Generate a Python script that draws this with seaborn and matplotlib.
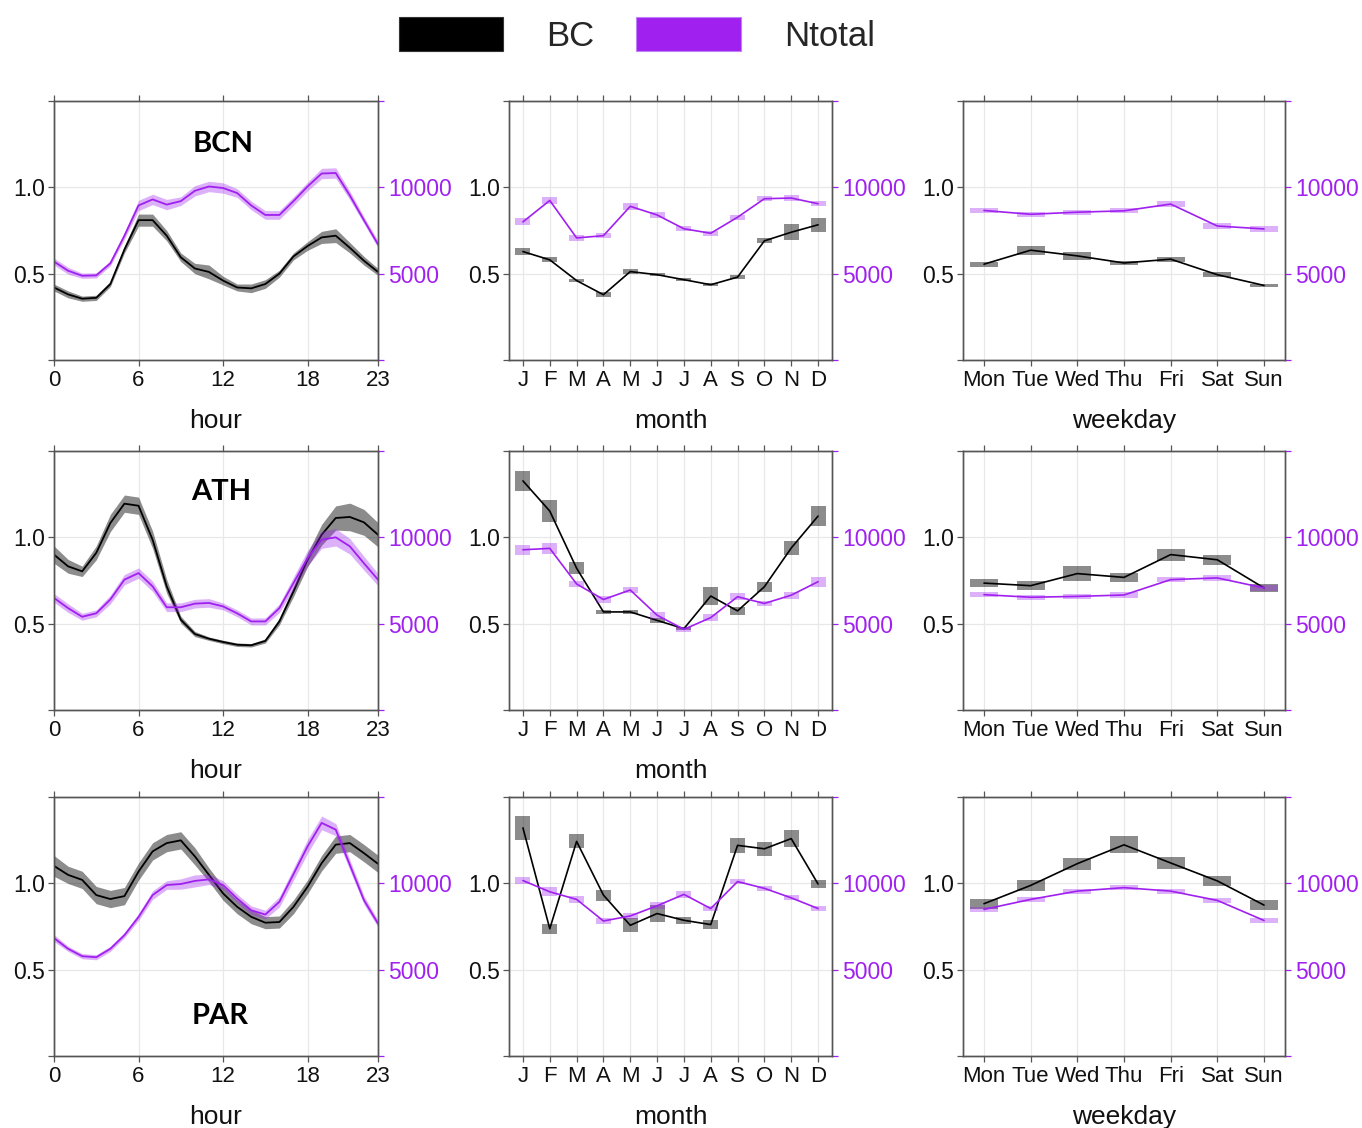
import numpy as np
import pandas as pd
import matplotlib
matplotlib.use("Agg")
import matplotlib.pyplot as plt
from matplotlib.patches import Patch
import seaborn as sns

sns.set_style("white")
plt.rcParams["font.family"] = ["Liberation Sans", "DejaVu Sans"]

# ---------------------------------------------------------------- data
hours = list(range(24))
months = list(range(1, 13))
month_labels = ["J", "F", "M", "A", "M", "J", "J", "A", "S", "O", "N", "D"]
weekdays = list(range(1, 8))
weekday_labels = ["Mon", "Tue", "Wed", "Thu", "Fri", "Sat", "Sun"]
sites = ["BCN", "ATH", "PAR"]

# BC (left axis) and Ntotal (right axis) diurnal means with CI half-widths
bcn_bc_hour = [0.42, 0.38, 0.355, 0.36, 0.44, 0.64, 0.81, 0.81, 0.72, 0.595, 0.53, 0.51,
               0.46, 0.42, 0.415, 0.44, 0.50, 0.60, 0.66, 0.71, 0.72, 0.65, 0.575, 0.51]
bcn_bc_hour_ci = [0.02, 0.02, 0.015, 0.015, 0.015, 0.02, 0.035, 0.035, 0.03, 0.025, 0.03, 0.04,
                  0.025, 0.02, 0.025, 0.025, 0.02, 0.02, 0.025, 0.035, 0.04, 0.03, 0.025, 0.02]
bcn_n_hour = [5700, 5170, 4880, 4900, 5600, 7200, 8950, 9300, 9000, 9200, 9800, 10050,
              9960, 9670, 8950, 8400, 8400, 9200, 10050, 10800, 10830, 9530, 8100, 6700]
bcn_n_hour_ci = [200, 200, 150, 150, 150, 200, 300, 300, 300, 250, 300, 300,
                 300, 250, 250, 250, 250, 250, 250, 300, 300, 250, 200, 200]

ath_bc_hour = [0.90, 0.832, 0.803, 0.91, 1.083, 1.195, 1.183, 0.986, 0.716, 0.523, 0.44, 0.413,
               0.394, 0.378, 0.375, 0.40, 0.513, 0.687, 0.87, 1.015, 1.112, 1.118, 1.087, 1.015]
ath_bc_hour_ci = [0.05, 0.04, 0.03, 0.04, 0.05, 0.05, 0.05, 0.05, 0.04, 0.02, 0.015, 0.01,
                  0.01, 0.01, 0.01, 0.012, 0.02, 0.03, 0.04, 0.06, 0.07, 0.08, 0.075, 0.07]
ath_n_hour = [6490, 5900, 5400, 5600, 6400, 7550, 7930, 7160, 5950, 5950, 6160, 6200,
              6000, 5600, 5130, 5130, 5900, 7350, 8800, 9860, 10000, 9480, 8500, 7550]
ath_n_hour_ci = [250, 250, 200, 200, 250, 300, 300, 300, 250, 250, 250, 250,
                 200, 200, 200, 200, 250, 350, 450, 500, 500, 450, 400, 350]

par_bc_hour = [1.101, 1.049, 1.02, 0.932, 0.909, 0.926, 1.068, 1.185, 1.233, 1.249, 1.156, 1.049,
               0.942, 0.864, 0.806, 0.772, 0.776, 0.864, 0.98, 1.117, 1.224, 1.233, 1.175, 1.113]
par_bc_hour_ci = [0.06, 0.05, 0.05, 0.05, 0.05, 0.05, 0.05, 0.05, 0.05, 0.05, 0.05, 0.04,
                  0.04, 0.04, 0.04, 0.035, 0.035, 0.04, 0.04, 0.045, 0.05, 0.05, 0.05, 0.05]
par_n_hour = [6830, 6210, 5780, 5720, 6210, 7000, 8050, 9320, 9900, 9960, 10140, 10230,
              9900, 9120, 8440, 8190, 8930, 10530, 12140, 13500, 13110, 11070, 9030, 7670]
par_n_hour_ci = [200, 150, 150, 150, 150, 150, 200, 250, 250, 300, 350, 300,
                 250, 250, 250, 250, 300, 350, 400, 400, 350, 300, 250, 200]

# monthly means with CI half-widths
bcn_bc_month = [0.628, 0.58, 0.46, 0.378, 0.512, 0.494, 0.465, 0.436, 0.48, 0.69, 0.74, 0.783]
bcn_bc_month_ci = [0.02, 0.015, 0.01, 0.015, 0.015, 0.01, 0.01, 0.01, 0.01, 0.015, 0.045, 0.04]
bcn_n_month = [8000, 9240, 7070, 7200, 8900, 8400, 7600, 7340, 8270, 9340, 9380, 9050]
bcn_n_month_ci = [200, 200, 150, 150, 200, 150, 150, 150, 150, 150, 150, 150]

ath_bc_month = [1.327, 1.152, 0.821, 0.568, 0.568, 0.519, 0.471, 0.66, 0.574, 0.714, 0.938, 1.123]
ath_bc_month_ci = [0.058, 0.063, 0.035, 0.014, 0.014, 0.015, 0.01, 0.053, 0.022, 0.03, 0.04, 0.056]
ath_n_month = [9280, 9360, 7300, 6400, 6950, 5490, 4670, 5350, 6560, 6170, 6650, 7430]
ath_n_month_ci = [300, 300, 200, 200, 200, 200, 150, 200, 200, 150, 200, 300]

par_bc_month = [1.321, 0.737, 1.243, 0.932, 0.757, 0.825, 0.786, 0.761, 1.22, 1.20, 1.259, 0.996]
par_bc_month_ci = [0.068, 0.03, 0.04, 0.032, 0.04, 0.05, 0.02, 0.027, 0.044, 0.042, 0.047, 0.024]
par_n_month = [10160, 9510, 9070, 7820, 8110, 8700, 9360, 8540, 10100, 9710, 9160, 8540]
par_n_month_ci = [200, 250, 200, 200, 200, 200, 200, 150, 150, 150, 150, 120]

# day-of-week means with CI half-widths
bcn_bc_week = [0.555, 0.636, 0.603, 0.562, 0.584, 0.494, 0.432]
bcn_bc_week_ci = [0.015, 0.025, 0.025, 0.012, 0.015, 0.015, 0.01]
bcn_n_week = [8660, 8440, 8560, 8640, 9030, 7760, 7590]
bcn_n_week_ci = [150, 150, 150, 150, 150, 150, 150]

ath_bc_week = [0.735, 0.72, 0.79, 0.768, 0.90, 0.87, 0.707]
ath_bc_week_ci = [0.025, 0.025, 0.045, 0.025, 0.035, 0.03, 0.025]
ath_n_week = [6680, 6530, 6580, 6660, 7550, 7650, 7070]
ath_n_week_ci = [150, 150, 150, 150, 150, 150, 150]

par_bc_week = [0.882, 0.988, 1.114, 1.223, 1.118, 1.014, 0.874]
par_bc_week_ci = [0.03, 0.03, 0.035, 0.05, 0.035, 0.03, 0.03]
par_n_week = [8490, 9070, 9550, 9750, 9550, 9010, 7850]
par_n_week_ci = [150, 150, 150, 150, 150, 150, 150]

hour_data = {
    "BCN": (bcn_bc_hour, bcn_bc_hour_ci, bcn_n_hour, bcn_n_hour_ci),
    "ATH": (ath_bc_hour, ath_bc_hour_ci, ath_n_hour, ath_n_hour_ci),
    "PAR": (par_bc_hour, par_bc_hour_ci, par_n_hour, par_n_hour_ci),
}
month_data = {
    "BCN": (bcn_bc_month, bcn_bc_month_ci, bcn_n_month, bcn_n_month_ci),
    "ATH": (ath_bc_month, ath_bc_month_ci, ath_n_month, ath_n_month_ci),
    "PAR": (par_bc_month, par_bc_month_ci, par_n_month, par_n_month_ci),
}
week_data = {
    "BCN": (bcn_bc_week, bcn_bc_week_ci, bcn_n_week, bcn_n_week_ci),
    "ATH": (ath_bc_week, ath_bc_week_ci, ath_n_week, ath_n_week_ci),
    "PAR": (par_bc_week, par_bc_week_ci, par_n_week, par_n_week_ci),
}

# ---------------------------------------------------------------- style
BC_COL = "black"
N_COL = "#A020F0"
FRAME = "#555555"
GRID = "#e8e8e8"
W, H = 1362, 1128
col_left = [54, 509, 963]
col_width = [324, 323, 322]
row_top = [101, 451, 797]
row_height = 259

fig = plt.figure(figsize=(W / 100, H / 100), dpi=100)


def style_axes(ax, ax2, xticks, xlabels, xlim, xlabel):
    ax.set_xlim(*xlim)
    ax.set_ylim(0, 1.5)
    ax2.set_ylim(0, 15000)
    ax.set_xticks(xticks)
    ax.set_xticklabels(xlabels)
    ax.set_yticks([0, 0.5, 1.0, 1.5])
    ax.set_yticklabels(["", "0.5", "1.0", ""])
    ax2.set_yticks([0, 5000, 10000, 15000])
    ax2.set_yticklabels(["", "5000", "10000", ""])
    ax.grid(True, color=GRID, lw=0.9)
    ax.set_axisbelow(True)
    for a in (ax, ax2):
        for s in a.spines.values():
            s.set_color(FRAME)
            s.set_linewidth(1.0)
            s.set_visible(True)
    ax.tick_params(axis="x", which="both", direction="out", length=4.5, width=0.9,
                   color=FRAME, top=True, bottom=True, labelsize=16, pad=3,
                   labelcolor="#111111")
    ax.tick_params(axis="y", direction="out", length=4.5, width=0.9, color=FRAME,
                   left=True, right=False, labelsize=16.5, pad=2, labelcolor="#111111")
    ax2.tick_params(axis="y", direction="out", length=4.5, width=0.9, color=N_COL,
                    right=True, labelsize=16.5, pad=3, labelcolor=N_COL)
    ax2.set_ylabel("")
    ax.set_ylabel("")
    if xlabel:
        ax.set_xlabel(xlabel, fontsize=19, labelpad=13, color="#111111")
    else:
        ax.set_xlabel("")


def hour_panel(ax, ax2, site):
    bc, bc_ci, n, n_ci = (np.asarray(v, float) for v in hour_data[site])
    ax.fill_between(hours, bc - bc_ci, bc + bc_ci, color=BC_COL, alpha=0.45, lw=0)
    sns.lineplot(x=hours, y=bc, ax=ax, color=BC_COL, lw=1.3)
    ax2.fill_between(hours, n - n_ci, n + n_ci, color=N_COL, alpha=0.35, lw=0)
    sns.lineplot(x=hours, y=n, ax=ax2, color=N_COL, lw=1.3)


def box_panel(ax, ax2, x, data, width):
    bc, bc_ci, n, n_ci = (np.asarray(v, float) for v in data)
    ax.bar(x, 2 * bc_ci, bottom=bc - bc_ci, width=width, color=BC_COL, alpha=0.45, lw=0)
    sns.lineplot(x=x, y=bc, ax=ax, color=BC_COL, lw=1.2)
    ax2.bar(x, 2 * n_ci, bottom=n - n_ci, width=width, color=N_COL, alpha=0.35, lw=0)
    sns.lineplot(x=x, y=n, ax=ax2, color=N_COL, lw=1.2)


label_pos = {"BCN": (12.0, 1.206), "ATH": (11.9, 1.219), "PAR": (11.8, 0.183)}

for r, site in enumerate(sites):
    bottom = 1 - (row_top[r] + row_height) / H
    for c in range(3):
        rect = [col_left[c] / W, bottom, col_width[c] / W, row_height / H]
        ax = fig.add_axes(rect)
        ax2 = ax.twinx()
        if c == 0:
            hour_panel(ax, ax2, site)
            style_axes(ax, ax2, [0, 6, 12, 18, 23], ["0", "6", "12", "18", "23"],
                       (0, 23), "hour")
            lx, ly = label_pos[site]
            ax.text(lx, ly, site, ha="center", va="baseline", fontsize=21,
                    fontweight="bold", family=["Lato", "DejaVu Sans"], color="black")
        elif c == 1:
            box_panel(ax, ax2, months, month_data[site], 0.56)
            style_axes(ax, ax2, months, month_labels, (0.48, 12.52), "month")
        else:
            box_panel(ax, ax2, weekdays, week_data[site], 0.6)
            style_axes(ax, ax2, weekdays, weekday_labels, (0.55, 7.45),
                       "weekday" if r != 1 else "")

handles = [Patch(facecolor=BC_COL, edgecolor="#333333", lw=0.8),
           Patch(facecolor=N_COL, edgecolor="#c080f8", lw=0.8)]
fig.legend(handles, ["BC", "Ntotal"], loc="center", ncol=2,
           bbox_to_anchor=(637 / W, 1 - 35 / H), frameon=False, fontsize=25,
           handlelength=3.0, handleheight=1.1, handletextpad=1.25,
           columnspacing=1.2)

fig.savefig("out.png", dpi=100)
